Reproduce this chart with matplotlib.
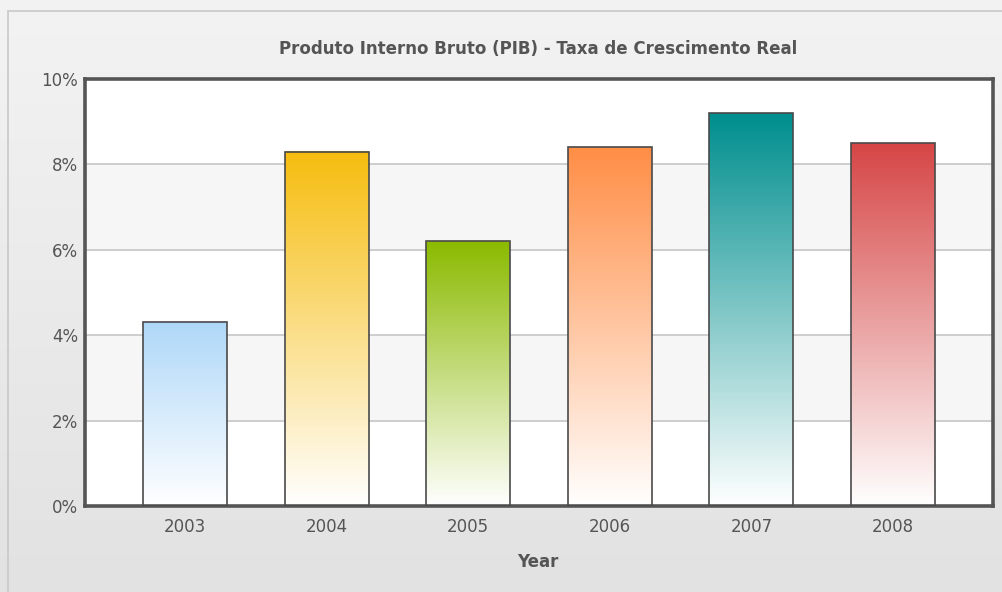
import numpy as np
import matplotlib.pyplot as plt
from matplotlib.colors import LinearSegmentedColormap
from matplotlib.patches import Rectangle

# dados
anos = ['2003', '2004', '2005', '2006', '2007', '2008']
taxa = [4.3, 8.3, 6.2, 8.4, 9.2, 8.5]
cores = ['#AFD8F8', '#F6BD0F', '#8BBA00', '#FF8E46', '#008E8E', '#D64646']
y_ticks = [0, 2, 4, 6, 8, 10]

W, H = 1003, 592
fig = plt.figure(figsize=(W / 100, H / 100), dpi=100)

# fundo em gradiente
bg = fig.add_axes([0, 0, 1, 1], zorder=-10)
grad = np.linspace(0, 1, 256).reshape(-1, 1)
bg_cmap = LinearSegmentedColormap.from_list('bg', ['#f3f3f3', '#e2e2e2'])
bg.imshow(grad, aspect='auto', cmap=bg_cmap, extent=[0, 1, 0, 1], origin='upper')
bg.add_patch(Rectangle((8 / W, -0.1), 1.1, (H - 11) / H + 0.1, fill=False,
                       edgecolor='#c8c8c8', linewidth=1.2))
bg.set_xlim(0, 1)
bg.set_ylim(0, 1)
bg.axis('off')

# área do gráfico
left, right, top, bottom = 85, 993, 79, 506
ax = fig.add_axes([left / W, 1 - bottom / H, (right - left) / W, (bottom - top) / H])
ax.set_facecolor('white')

x = np.arange(len(anos))

# faixas alternadas
for i in range(len(y_ticks) - 1):
    if i % 2 == 1:
        ax.axhspan(y_ticks[i], y_ticks[i + 1], color='#f6f6f6', zorder=0)
for t in y_ticks[1:-1]:
    ax.axhline(t, color='#c6c6c6', linewidth=1.2, zorder=1)

# barras com gradiente
largura = 0.593
bars = ax.bar(x, taxa, width=largura, color='none', edgecolor='#4a4a4a',
              linewidth=1.2, zorder=3)
for bar, cor in zip(bars, cores):
    cmap = LinearSegmentedColormap.from_list('g', ['white', cor])
    x0 = bar.get_x()
    h = bar.get_height()
    ax.imshow(np.linspace(0, 1, 256).reshape(-1, 1), cmap=cmap, aspect='auto',
              extent=[x0, x0 + bar.get_width(), 0, h], origin='lower', zorder=2)
ax.set_xlim(-0.706, len(anos) - 1 + 0.706)
ax.set_ylim(0, 10)

ax.set_xticks(x)
ax.set_xticklabels(anos)
ax.set_yticks(y_ticks)
ax.set_yticklabels([f'{t}%' for t in y_ticks])
ax.tick_params(length=0, labelsize=12, colors='#555555')
ax.tick_params(axis='x', pad=9)
ax.tick_params(axis='y', pad=5)
for s in ax.spines.values():
    s.set_color('#555555')
    s.set_linewidth(2.6)

fig.text(538 / W, 1 - 49 / H, 'Produto Interno Bruto (PIB) - Taxa de Crescimento Real',
         ha='center', va='center', fontsize=12, fontweight='bold', color='#555555')
fig.text(538 / W, 1 - 562 / H, 'Year', ha='center', va='center',
         fontsize=12, fontweight='bold', color='#555555')

fig.savefig('out.png', dpi=100)
